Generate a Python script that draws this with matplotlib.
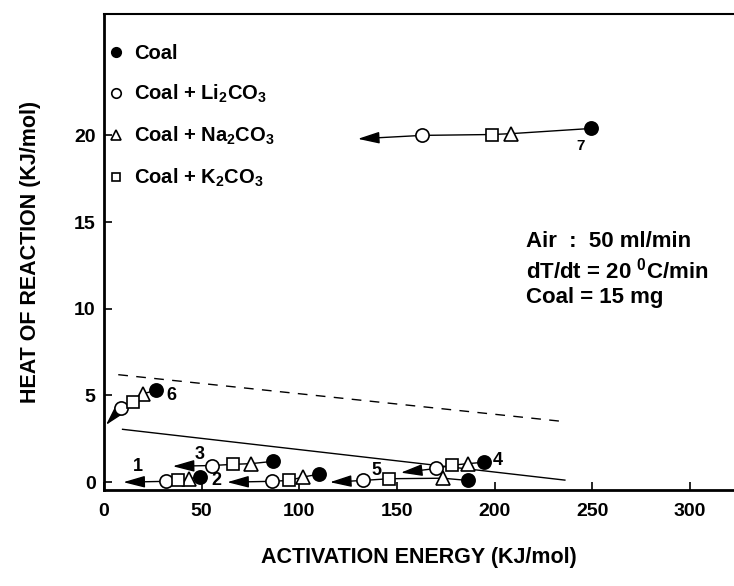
import matplotlib
matplotlib.use("Agg")
import matplotlib.pyplot as plt

plt.rcParams["font.family"] = ["Liberation Sans", "DejaVu Sans"]
plt.rcParams["font.weight"] = "bold"
plt.rcParams["mathtext.fontset"] = "custom"
plt.rcParams["mathtext.rm"] = "Liberation Sans:bold"
plt.rcParams["mathtext.bf"] = "Liberation Sans:bold"
plt.rcParams["mathtext.it"] = "Liberation Sans:bold"
plt.rcParams["mathtext.default"] = "bf"

# sample numbers
samples = ["1", "2", "3", "4", "5", "6", "7"]

# activation energy (KJ/mol) / heat of reaction (KJ/mol) for each additive
coal_E = [49.2, 109.9, 86.4, 194.5, 186.4, 26.5, 249.5]
coal_H = [0.30, 0.46, 1.20, 1.15, 0.10, 5.30, 20.4]
li_E = [31.7, 85.8, 55.1, 170.0, 132.5, 8.7, 163.0]
li_H = [0.05, 0.05, 0.96, 0.79, 0.10, 4.27, 20.0]
na_E = [43.7, 102.0, 75.3, 186.3, 173.5, 20.1, 208.4]
na_H = [0.20, 0.30, 1.07, 1.07, 0.23, 5.10, 20.1]
k_E = [37.7, 94.6, 66.2, 178.3, 146.0, 14.7, 198.6]
k_H = [0.10, 0.10, 1.03, 0.98, 0.20, 4.60, 20.05]

# arrow heads (direction of catalytic effect)
tip_E = [9.9, 63.1, 35.2, 152.0, 115.7, 1.0, 130.0]
tip_H = [0.0, 0.0, 0.92, 0.55, 0.0, 3.3, 19.8]

# trend lines
solid_E = [9.5, 236.0]
solid_H = [3.05, 0.12]
dashed_E = [7.3, 233.5]
dashed_H = [6.2, 3.52]

x_ticks = [0, 50, 100, 150, 200, 250, 300]
y_ticks = [0, 5, 10, 15, 20]

legend_labels = ["Coal", "Coal + Li$_2$CO$_3$", "Coal + Na$_2$CO$_3$", "Coal + K$_2$CO$_3$"]
conditions = "Air  :  50 ml/min\ndT/dt = 20 $^0$C/min\nCoal = 15 mg"

# label offsets (pixels) from the coal point
label_offsets = [(-62, 10), (-102, -6), (-73, 7), (14, 2), (-92, 10), (16, -5), (-11, -18)]

fig = plt.figure(figsize=(7.34, 5.86), dpi=100)
ax = fig.add_axes([104 / 734, (586 - 490) / 586, 630 / 734, 476 / 586])

ax.plot(solid_E, solid_H, color="black", lw=1.0, zorder=1)
ax.plot(dashed_E, dashed_H, color="black", lw=1.0, ls=(0, (7, 6)), zorder=1)

for i in range(len(samples)):
    pts = sorted(zip([coal_E[i], na_E[i], k_E[i], li_E[i]],
                     [coal_H[i], na_H[i], k_H[i], li_H[i]]))
    ax.plot([p[0] for p in pts], [p[1] for p in pts], color="black", lw=1.0, zorder=2)
    ax.annotate("", xy=(tip_E[i], tip_H[i]), xytext=(li_E[i], li_H[i]),
                arrowprops=dict(arrowstyle="-|>,head_length=1.1,head_width=0.3",
                                color="black", lw=1.0, shrinkA=0, shrinkB=0,
                                mutation_scale=12), zorder=2)
    fs = 11 if samples[i] == "7" else 13
    ax.annotate(samples[i], xy=(coal_E[i], coal_H[i]), xytext=label_offsets[i],
                textcoords="offset pixels", ha="center", va="center",
                fontsize=fs, fontweight="bold")

mk = dict(color="black", ls="none", markeredgewidth=1.2, zorder=4)
h1, = ax.plot(coal_E, coal_H, marker="o", ms=9.5, markerfacecolor="black", **mk)
h2, = ax.plot(li_E, li_H, marker="o", ms=9.5, markerfacecolor="white", **mk)
h3, = ax.plot(na_E, na_H, marker="^", ms=9.5, markerfacecolor="white", **mk)
h4, = ax.plot(k_E, k_H, marker="s", ms=8.5, markerfacecolor="white", **mk)

ax.legend([h1, h2, h3, h4], legend_labels, loc="upper left",
          bbox_to_anchor=(0.0, 0.945), frameon=False, fontsize=14.5,
          markerscale=0.72, handlelength=0.8, handletextpad=0.5,
          labelspacing=0.98, borderpad=0.2, borderaxespad=0.0)

ax.text(216, 12.25, conditions, fontsize=16, fontweight="bold",
        va="center", ha="left", linespacing=1.25)

ax.set_xlim(0, 322.6)
ax.set_ylim(-0.45, 27.0)
ax.set_xticks(x_ticks)
ax.set_yticks(y_ticks)
ax.tick_params(direction="in", length=6, width=1.2, labelsize=14)
ax.tick_params(axis="x", pad=9)
ax.tick_params(axis="y", pad=6)

ax.spines["right"].set_visible(False)
ax.spines["left"].set_linewidth(2.0)
ax.spines["bottom"].set_linewidth(2.0)
ax.spines["top"].set_linewidth(1.5)

ax.set_xlabel("ACTIVATION ENERGY (KJ/mol)", fontsize=15.5, fontweight="bold")
ax.set_ylabel("HEAT OF REACTION (KJ/mol)", fontsize=15.5, fontweight="bold")
ax.xaxis.set_label_coords(0.5, -0.12)
ax.yaxis.set_label_coords(-0.10, 0.5)

fig.savefig("out.png", dpi=100)
plt.close(fig)
